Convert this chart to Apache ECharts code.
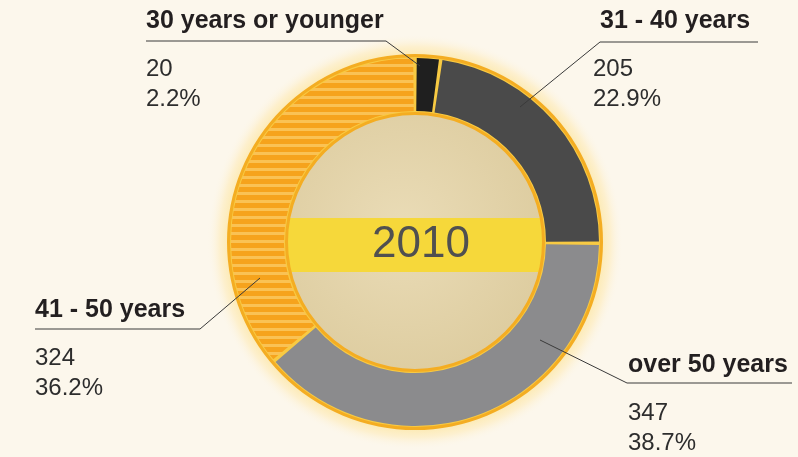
<!DOCTYPE html>
<html>
<head>
<meta charset="utf-8">
<script src="https://cdn.jsdelivr.net/npm/echarts@6/dist/echarts.min.js"></script>
<style>
  html, body { margin: 0; padding: 0; background: #fcf7ec; }
  #main { width: 798px; height: 457px; }
</style>
</head>
<body>
<div id="main"></div>
<script>
// age groups, clockwise from the top
var groups = ['30 years or younger', '31 - 40 years', 'over 50 years', '41 - 50 years'];
var counts = [20, 205, 347, 324];
var yearLabel = '2010';

// where each label sits and where its leader goes (pixels)
var labelSpots = [
  { x: 146, y: 3,   title: 't',  line: [[420, 66], [386, 41], [146, 41]] },
  { x: 593, y: 3,   title: 'tb', line: [[520, 107], [600, 42], [758, 42]] },
  { x: 628, y: 347, title: 't',  line: [[540, 340], [627, 383], [792, 383]] },
  { x: 35,  y: 292, title: 't',  line: [[260, 278], [200, 329], [35, 329]] }
];

var cx = 415, cy = 242;
var FONT = 'Liberation Sans, Arial, sans-serif';

// striped orange fill
var stripe = document.createElement('canvas');
stripe.width = 8; stripe.height = 8;
var sctx = stripe.getContext('2d');
sctx.fillStyle = '#f6a31c';
sctx.fillRect(0, 0, 8, 8);
sctx.fillStyle = '#fac254';
sctx.fillRect(0, 0, 8, 3);

var colors = ['#1f1f1f', '#4a4a4a', '#8b8b8d', { image: stripe, repeat: 'repeat' }];

var pieData = groups.map(function (g, i) {
  return { name: g, value: counts[i], itemStyle: { color: colors[i] } };
});

var labelData = groups.map(function (g, i) {
  return { name: g, value: counts[i] };
});

var myChart = echarts.init(document.getElementById('main'));

myChart.setOption({
  backgroundColor: '#fcf7ec',
  animation: false,
  graphic: [
    {
      type: 'circle', z: 1, silent: true,
      shape: { cx: cx, cy: cy, r: 208 },
      style: {
        fill: new echarts.graphic.RadialGradient(0.5, 0.5, 0.5, [
          { offset: 0, color: '#fce8aa' },
          { offset: 0.88, color: '#fce8aa' },
          { offset: 0.94, color: '#fdf0cf' },
          { offset: 1, color: 'rgba(252,247,236,0)' }
        ])
      }
    },
    {
      type: 'rect', z: 3, silent: true,
      shape: { x: cx - 132, y: 218, width: 264, height: 54 },
      style: { fill: '#f6d83a' }
    },
    {
      type: 'text', z: 4, silent: true,
      x: 421, y: 245,
      style: {
        text: yearLabel, fontFamily: FONT, fontSize: 44,
        fill: '#505050', align: 'center', verticalAlign: 'middle'
      }
    }
  ],
  series: [
    {
      // inner disc
      type: 'pie', z: 2, silent: true,
      center: [cx, cy], radius: [0, 128],
      label: { show: false }, labelLine: { show: false },
      data: [{ value: 1, itemStyle: {
        color: new echarts.graphic.RadialGradient(0.45, 0.45, 0.6, [
          { offset: 0, color: '#eadcb7' },
          { offset: 1, color: '#ddcc9f' }
        ])
      } }]
    },
    {
      // orange outline of the ring
      type: 'pie', z: 5, silent: true,
      center: [cx, cy], radius: [127, 188],
      label: { show: false }, labelLine: { show: false },
      data: [{ value: 1, itemStyle: { color: '#f4ad22' } }]
    },
    {
      // light gaps between slices
      type: 'pie', z: 6, silent: true,
      center: [cx, cy], radius: [130, 185],
      label: { show: false }, labelLine: { show: false },
      data: [{ value: 1, itemStyle: { color: '#f8ca43' } }]
    },
    {
      type: 'pie', z: 7, silent: true,
      center: [cx, cy], radius: [131, 184],
      startAngle: 90, clockwise: true, padAngle: 1.1,
      label: { show: false }, labelLine: { show: false },
      data: pieData
    },
    {
      // transparent copy that carries the labels above the ring
      type: 'pie', z: 8, silent: true,
      center: [cx, cy], radius: [131, 184],
      startAngle: 90, clockwise: true, padAngle: 1.1,
      avoidLabelOverlap: false,
      itemStyle: { color: 'rgba(0,0,0,0)' },
      label: {
        show: true,
        position: 'outside',
        formatter: function (p) {
          var spot = labelSpots[p.dataIndex];
          return '{' + spot.title + '|' + p.name + '}\n{g| }\n{n|' + p.value + '}\n{n|' + p.percent.toFixed(1) + '%}';
        },
        rich: {
          t: { fontFamily: FONT, fontSize: 25, fontWeight: 'bold', color: '#231f20', lineHeight: 37 },
          tb: { fontFamily: FONT, fontSize: 25, fontWeight: 'bold', color: '#231f20', lineHeight: 37, padding: [0, 0, 0, 7] },
          g: { fontSize: 2, lineHeight: 14 },
          n: { fontFamily: FONT, fontSize: 24, color: '#2d2d2d', lineHeight: 30 }
        }
      },
      labelLine: { show: true, lineStyle: { color: '#3a3a3a', width: 1 } },
      labelLayout: function (params) {
        var spot = labelSpots[params.dataIndex];
        return {
          x: spot.x, y: spot.y,
          align: 'left', verticalAlign: 'top',
          labelLinePoints: spot.line
        };
      },
      data: labelData
    }
  ]
});
</script>
</body>
</html>
